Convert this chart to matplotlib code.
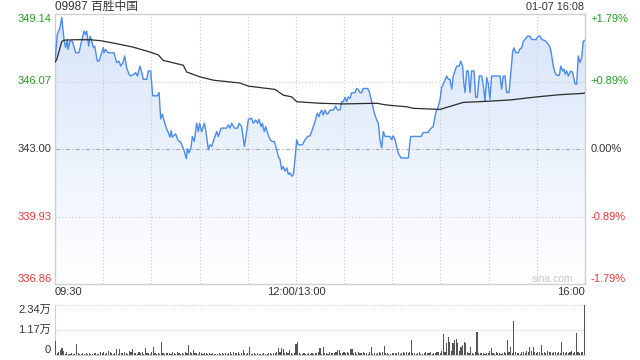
import numpy as np
import matplotlib
matplotlib.use('Agg')
import matplotlib.pyplot as plt
from matplotlib.patches import Polygon
from matplotlib.colors import LinearSegmentedColormap
import matplotlib.transforms as mtransforms

plt.rcParams['font.family'] = ['Liberation Sans', 'Noto Sans CJK SC', 'DejaVu Sans']

title = '09987 百胜中国'
timestamp = '01-07 16:08'
watermark = 'sina.com'
prev_close = 343.00
price_ticks = [349.14, 346.07, 343.00, 339.93, 336.86]
price_labels = ['349.14', '346.07', '343.00', '339.93', '336.86']
pct_labels = ['+1.79%', '+0.89%', '0.00%', '-0.89%', '-1.79%']
x_tick_pos = [0, 150, 330]
x_tick_labels = ['09:30', '12:00/13:00', '16:00']
vol_ticks = [0, 11700, 23400]
vol_tick_labels = ['0', '1.17万', '2.34万']

price_minutes = [
    0, 1.4, 3.1, 4.2, 5.6, 6.6, 7.7, 8.1, 9.3, 10.8, 12.9, 14.9, 16.4, 18.1, 19.1, 19.7,
    21.0, 21.8, 22.6, 23.9, 24.7, 26.3, 27.4, 30.1, 30.5, 31.5, 33.0, 36.7, 38.4, 39.8,
    40.9, 42.3, 43.4, 44.6, 46.1, 47.1, 49.2, 50.2, 51.3, 52.9, 53.8, 55.0, 57.1, 58.1,
    59.6, 60.8, 63.7, 64.8, 65.8, 66.8, 67.9, 69.5, 70.4, 71.6, 72.4, 73.0, 75.1, 76.6,
    78.2, 80.3, 81.8, 82.4, 83.4, 84.7, 85.5, 86.7, 88.2, 89.2, 90.1, 91.3, 93.0, 93.8,
    95.5, 96.5, 97.6, 99.2, 100.7, 101.7, 103.4, 106.9, 107.9, 109.0, 110.0, 111.7, 113.7,
    114.6, 116.2, 117.9, 118.9, 120.4, 122.4, 123.5, 124.9, 126.2, 127.0, 128.3, 129.1,
    130.3, 131.2, 132.4, 133.9, 135.3, 136.6, 138.0, 139.0, 140.1, 141.1, 142.1, 143.2,
    144.3, 145.3, 146.3, 147.4, 148.4, 149.4, 150.5, 151.5, 152.5, 154.0, 155.7, 157.3,
    158.8, 160.2, 161.9, 163.3, 164.4, 165.0, 166.0, 167.0, 168.1, 169.2, 170.2, 171.2,
    173.3, 174.7, 176.0, 177.4, 178.5, 179.5, 180.6, 181.6, 182.6, 183.7, 184.7, 186.8,
    187.8, 188.8, 189.9, 190.9, 191.9, 194.7, 195.7, 197.2, 198.8, 200.3, 201.3, 202.3,
    203.4, 204.4, 205.5, 208.6, 209.6, 210.6, 211.7, 212.7, 213.7, 215.4, 220.0, 221.4,
    227.9, 229.3, 232.4, 233.5, 235.5, 237.0, 238.6, 239.7, 240.7, 242.2, 243.9, 244.9,
    245.9, 247.0, 248.0, 249.0, 250.1, 251.7, 252.6, 253.8, 254.6, 255.3, 256.3, 257.3,
    258.4, 259.4, 260.9, 261.9, 262.9, 264.2, 265.7, 266.7, 267.7, 268.8, 269.8, 270.8,
    271.9, 275.0, 277.1, 278.1, 279.1, 280.2, 281.2, 282.7, 283.7, 285.0, 285.8, 287.0,
    288.5, 289.5, 290.6, 291.6, 292.6, 294.1, 295.7, 296.8, 299.5, 300.9, 302.0, 303.0,
    305.1, 306.5, 307.8, 308.6, 310.3, 311.3, 312.4, 314.0, 314.9, 316.1, 316.9, 317.7,
    318.6, 319.6, 321.1, 322.3, 323.8, 324.8, 325.8, 326.9, 327.9, 328.9, 330.0]

price_values = [
    346.95, 348.21, 348.51, 348.99, 347.98, 347.61, 347.98, 347.53, 347.90, 347.90, 347.38,
    347.38, 347.86, 348.36, 348.21, 348.36, 347.68, 348.13, 347.98, 347.61, 347.68, 347.00,
    347.00, 347.61, 347.38, 347.53, 347.38, 347.38, 346.93, 347.00, 346.77, 346.93, 347.23,
    346.70, 346.40, 346.32, 346.40, 346.48, 346.32, 346.77, 346.55, 346.17, 346.17, 346.55,
    346.55, 345.42, 345.42, 345.57, 344.37, 344.59, 344.29, 343.92, 343.77, 343.54, 343.84,
    343.54, 343.69, 343.39, 343.32, 342.94, 342.56, 343.01, 342.82, 343.05, 343.57, 343.34,
    344.17, 343.79, 344.17, 343.79, 344.17, 343.87, 342.97, 343.19, 343.12, 343.50, 343.79,
    343.57, 343.95, 343.95, 344.10, 343.95, 344.17, 343.95, 343.95, 344.17, 344.02, 343.12,
    343.57, 344.35, 344.40, 344.17, 344.32, 344.17, 344.35, 344.02, 344.17, 343.79, 344.02,
    343.72, 343.42, 343.34, 343.34, 342.97, 342.67, 342.52, 342.07, 342.21, 341.99, 342.14,
    341.84, 341.92, 341.76, 341.84, 342.52, 343.42, 343.19, 343.19, 343.19, 343.42, 343.57,
    343.60, 343.87, 344.25, 344.63, 344.47, 344.63, 344.77, 344.55, 344.77, 344.59, 344.63,
    344.77, 344.77, 344.95, 344.77, 344.77, 345.15, 345.15, 345.35, 345.15, 345.37, 345.30,
    345.56, 345.56, 345.75, 345.71, 345.56, 345.56, 345.75, 345.75, 345.60, 345.15, 344.63,
    344.32, 344.17, 343.42, 343.05, 343.80, 343.57, 343.57, 343.42, 343.60, 343.42, 343.12,
    342.82, 342.59, 342.59, 343.57, 343.57, 343.75, 343.75, 343.90, 344.02, 344.63, 344.92,
    345.23, 345.80, 346.03, 346.32, 346.17, 346.17, 345.72, 346.32, 346.55, 346.77, 346.77,
    347.00, 346.77, 345.95, 345.57, 346.55, 346.55, 345.57, 346.55, 346.55, 345.35, 345.35,
    346.32, 346.32, 345.87, 345.19, 346.25, 345.95, 345.27, 346.32, 346.32, 346.32, 345.72,
    346.32, 346.32, 345.57, 345.57, 346.40, 347.45, 347.60, 347.38, 347.38, 347.56, 347.60,
    347.90, 347.98, 348.13, 348.13, 347.98, 347.98, 348.13, 348.13, 347.98, 347.93, 347.83,
    347.68, 347.53, 346.77, 346.48, 346.35, 346.35, 346.77, 346.55, 346.63, 346.40, 346.55,
    346.32, 346.55, 346.48, 345.95, 345.95, 347.23, 346.93, 347.15, 347.90, 347.95]

avg_minutes = [0, 1.0, 4.2, 5.6, 12.5, 21.8, 28.0, 38.4, 48.8, 59.1, 64.3, 67.4, 79.9,
               82.0, 90.3, 98.6, 115.2, 120.4, 137.0, 142.1, 147.4, 150.5, 165.0, 179.5,
               200.3, 206.5, 219.0, 223.1, 239.7, 254.2, 268.8, 283.3, 299.9, 314.4,
               328.9, 330.0]
avg_values = [346.95, 347.05, 347.88, 347.95, 347.97, 347.97, 347.93, 347.79, 347.63,
              347.41, 347.28, 347.03, 346.81, 346.50, 346.28, 346.13, 346.00, 345.86,
              345.71, 345.45, 345.37, 345.15, 345.08, 345.05, 345.08, 345.00, 344.92,
              344.85, 344.80, 345.12, 345.17, 345.23, 345.37, 345.47, 345.53, 345.55]

volumes = [
    6700, 900, 1500, 2200, 3400, 1800, 700, 1200, 600, 500,
    800, 600, 700, 5150, 900, 600, 500, 800, 700, 900,
    600, 800, 700, 500, 900, 1100, 700, 600, 1300, 800,
    1600, 700, 900, 1800, 1200, 800, 600, 1000, 2650, 700,
    2650, 900, 1100, 1500, 800, 700, 1900, 1200, 2650, 800,
    1000, 700, 1300, 900, 1600, 600, 3100, 800, 1000, 700,
    1200, 3900, 800, 600, 900, 700, 6100, 900, 700, 1100,
    800, 1000, 600, 1200, 900, 700, 1500, 800, 600, 1000,
    700, 1400, 900, 4700, 1200, 800, 2300, 900, 1000, 700,
    1300, 800, 600, 900, 1000, 700, 800, 500, 900, 600,
    700, 500, 800, 600, 900, 700, 1000, 600, 800, 1200,
    700, 1400, 900, 800, 1500, 600, 1000, 2300, 900, 700,
    800, 3750, 600, 700, 900, 600, 800, 500, 700, 600,
    900, 700, 600, 800, 1000, 700, 900, 800, 1200, 3100,
    1200, 3100, 2650, 900, 1300, 800, 2300, 900, 700, 1100,
    5150, 6100, 900, 700, 600, 800, 500, 700, 900, 600,
    800, 700, 1100, 900, 1300, 3400, 700, 3750, 900, 1000,
    700, 1300, 1100, 900, 800, 1600, 2300, 2300, 1000, 900,
    1200, 800, 1500, 1000, 2650, 2650, 900, 1200, 700, 1600,
    1100, 900, 1300, 800, 1000, 700, 1200, 3750, 700, 900,
    600, 1100, 1300, 900, 1600, 4200, 1000, 800, 700, 600,
    900, 1100, 800, 1000, 1400, 700, 900, 1300, 800, 1200,
    1000, 1500, 7000, 1100, 900, 700, 800, 1200, 600, 700,
    900, 1300, 800, 1000, 1600, 700, 1100, 900, 1500, 1300,
    1100, 2000, 9800, 1500, 5800, 8400, 6200, 2000, 5800, 7000,
    7350, 5800, 1800, 3900, 4700, 6200, 5500, 1200, 900, 3900,
    1000, 700, 1200, 10800, 900, 800, 1000, 1100, 700, 900,
    800, 1700, 3400, 900, 700, 1200, 800, 1000, 700, 900,
    1200, 1000, 7000, 1500, 3900, 800, 15900, 1300, 1000, 900,
    700, 1200, 1500, 900, 1800, 1300, 3600, 2000, 3600, 1300,
    1000, 1200, 1600, 4700, 1100, 1400, 900, 1800, 1500, 1300,
    900, 1200, 1600, 1000, 1400, 900, 6200, 1300, 900, 1500,
    1100, 1200, 1700, 1000, 1500, 10300, 1300, 1100, 1600, 1200,
    23400]

W, H = 640, 360
fig = plt.figure(figsize=(6.4, 3.6), dpi=100)
fig.patch.set_facecolor('white')

GREEN = '#1fa01f'
RED = '#f03535'
DARK = '#333333'
label_colors = [GREEN, GREEN, DARK, RED, RED]

# ---------- main price axes ----------
ax = fig.add_axes([55 / W, 76 / H, 530 / W, 270 / H])
ymin, ymax = price_ticks[-1], price_ticks[0]
ax.set_xlim(0, 330)
ax.set_ylim(ymin, ymax)

# gradient fill under price line
verts = [(price_minutes[0], ymin)] + list(zip(price_minutes, price_values)) + [(price_minutes[-1], ymin)]
poly = Polygon(verts, closed=True, facecolor='none', edgecolor='none')
ax.add_patch(poly)
cmap = LinearSegmentedColormap.from_list('fillgrad', ['#ffffff', '#d7e4fa'])
grad = np.linspace(0, 1, 256).reshape(-1, 1)
im = ax.imshow(grad, extent=[0, 330, ymin, ymax], origin='lower', aspect='auto',
               cmap=cmap, zorder=1, interpolation='bilinear')
im.set_clip_path(poly)

# grid lines
for t in price_ticks[1:-1]:
    if t == prev_close:
        ax.axhline(t, color='#aaaaaa', lw=0.8, ls=(0, (4, 2, 1, 2)), zorder=2)
    else:
        ax.axhline(t, color='#c8c8c8', lw=0.8, ls=(0, (1, 2)), zorder=2)
for m in range(30, 330, 30):
    ax.axvline(m, color='#c8c8c8', lw=0.8, ls=(0, (1, 2)), zorder=2)

ax.plot(price_minutes, price_values, color='#4a8bef', lw=1.0, zorder=4)
ax.plot(avg_minutes, avg_values, color='#2b2b2b', lw=0.9, zorder=5)

ax.set_xticks([])
ax.set_yticks([])
for s in ax.spines.values():
    s.set_color('#cfcfcf')
    s.set_linewidth(1.0)

trans_l = mtransforms.blended_transform_factory(fig.transFigure, ax.transData)
for i, (t, lab, c) in enumerate(zip(price_ticks, price_labels, label_colors)):
    va = 'top' if i == 0 else ('bottom' if i == len(price_ticks) - 1 else 'center')
    fig.text(51.5 / W, t, lab, transform=trans_l, ha='right', va=va, color=c, fontsize=8)
    fig.text(590.5 / W, t, pct_labels[i], transform=trans_l, ha='left', va=va, color=c,
             fontsize=8)

# x tick labels
trans_x = mtransforms.blended_transform_factory(ax.transData, fig.transFigure)
has = ['left', 'center', 'right']
for p, lab, ha in zip(x_tick_pos, x_tick_labels, has):
    fig.text(p, 1 - 287 / H, lab, transform=trans_x, ha=ha, va='top', color=DARK, fontsize=8)

fig.text(55 / W, 1 - 7 / H, title, ha='left', va='center', color=DARK, fontsize=8.5)
fig.text(584.5 / W, 1 - 7 / H, timestamp, ha='right', va='center', color=DARK, fontsize=7.8)
ax.text(573 / W, 1 - 279 / H, watermark, transform=fig.transFigure, ha='right', va='center',
        color='#c8c8c8', fontsize=7.5, zorder=6)

# ---------- volume axes ----------
axv = fig.add_axes([55 / W, 5 / H, 530 / W, 50 / H])
axv.set_xlim(-0.4, 330.4)
axv.set_ylim(0, vol_ticks[-1])
vol_x = np.arange(len(volumes))
axv.bar(vol_x, volumes, width=0.7, color='#555555', zorder=3, linewidth=0)
for t in vol_ticks[1:]:
    axv.axhline(t, color='#c8c8c8', lw=0.8, ls=(0, (1, 1.5)), zorder=2)
axv.set_xticks([])
axv.set_yticks([])
for k in ['top', 'right']:
    axv.spines[k].set_visible(False)
for k in ['left', 'bottom']:
    axv.spines[k].set_color('#cfcfcf')
trans_v = mtransforms.blended_transform_factory(fig.transFigure, axv.transData)
for t, lab in zip(vol_ticks, vol_tick_labels):
    va = 'top' if t == vol_ticks[-1] else ('bottom' if t == 0 else 'center')
    fig.text(51 / W, t, lab, transform=trans_v, ha='right', va=va, color=DARK, fontsize=8)

fig.savefig('out.png', dpi=100)
